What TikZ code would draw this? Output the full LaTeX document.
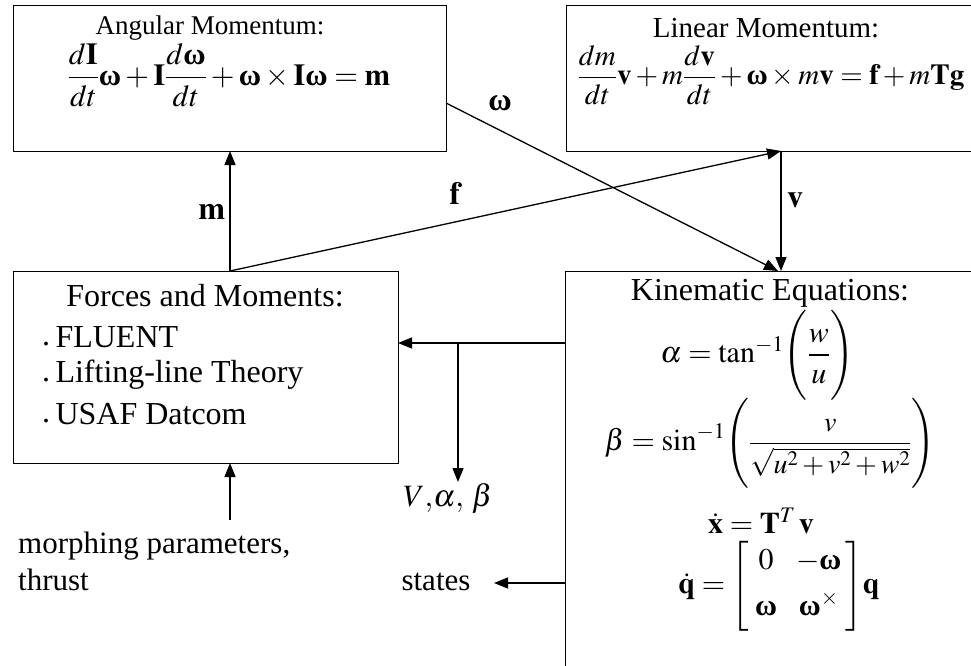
\documentclass[tikz,border=0pt]{standalone}
\usepackage{amsmath}
\usepackage{mathptmx}
\usepackage{fontspec}
\setmainfont{Liberation Serif}
\usetikzlibrary{arrows.meta}
\newcommand{\bom}{\text{\normalfont\bfseries ω}}
\newcommand{\bdot}{\raisebox{0.12ex}{.}\,}
\tikzset{
  box/.style={draw, line width=1.3pt, inner sep=0pt, anchor=north west},
  arr/.style={line width=1.3pt, -{Triangle[length=14pt,width=11pt]}},
  lbl/.style={inner sep=0pt},
  big/.style={font=\fontsize{32}{37}\selectfont},
  keq/.style={inner sep=0pt, font=\fontsize{30}{34}\selectfont},
}
\begin{document}
\begin{tikzpicture}[x=1pt,y=-1pt,font=\fontsize{27}{32}\selectfont]
\useasboundingbox (0,0) rectangle (971,666);
\clip (0,0) rectangle (971,666);
% boxes
\node[box, minimum width=433pt, minimum height=146pt] (ang) at (13,5) {};
\node[box, minimum width=409pt, minimum height=146pt] (lin) at (566,5) {};
\node[box, minimum width=385pt, minimum height=192pt] (forc) at (13,271) {};
\node[box, minimum width=410pt, minimum height=430pt] (kin) at (565,271) {};
% texts
\node[lbl] (angt) at (210,28) {Angular Momentum:};
\node[lbl, font=\fontsize{30.5}{34}\selectfont] (ange) at (229,75) {$\dfrac{d\mathbf{I}}{dt}\bom+\mathbf{I}\dfrac{d\bom}{dt}+\bom\times\mathbf{I}\bom=\mathbf{m}$};
\node[lbl, font=\fontsize{29}{34}\selectfont] (lint) at (766,28) {Linear Momentum:};
\node[lbl, font=\fontsize{29}{34}\selectfont] (line) at (771,75) {$\dfrac{dm}{dt}\mathbf{v}+m\dfrac{d\mathbf{v}}{dt}+\bom\times m\mathbf{v}=\mathbf{f}+m\mathbf{Tg}$};
\node[lbl, big] (forct) at (205,296) {Forces and Moments:};
\node[lbl, big, anchor=west] (b1) at (42,337) {\bdot FLUENT};
\node[lbl, big, anchor=west] (b2) at (42,375) {\bdot Lifting-line Theory};
\node[lbl, big, anchor=west] (b3) at (42,414) {\bdot USAF Datcom};
\node[lbl, big] (kint) at (770,293) {Kinematic Equations:};
\node[keq] (eqa) at (757,355) {$\alpha=\tan^{-1}\!\left(\rule[-1.15em]{0pt}{2.45em}\dfrac{w}{u}\right)$};
\node[keq] (eqb) at (770,443) {$\beta=\sin^{-1}\!\left(\rule[-1.2em]{0pt}{2.5em}\text{\fontsize{28}{32}\selectfont$\dfrac{v}{\sqrt{u^2+v^2+w^2}}$}\right)$};
\node[keq] (eqx) at (761,521) {$\dot{\mathbf{x}}=\mathbf{T}^T\,\mathbf{v}$};
\node[keq] (eqq) at (779,586) {$\dot{\mathbf{q}}=\left[\rule[-1.2em]{0pt}{2.5em}\begin{array}{@{\hspace{6pt}}c@{\hspace{19pt}}c@{\hspace{4pt}}}0 & -\bom\\[12pt] \bom & \bom^{\times}\end{array}\right]\!\mathbf{q}$};
\node[lbl, anchor=west, align=left, font=\fontsize{31}{37}\selectfont] (morph) at (18,561) {morphing parameters,\\thrust};
\node[lbl, font=\fontsize{31}{34}\selectfont] (vab) at (448,498) {$V{,}\alpha{,}\ \beta$};
\node[lbl, font=\fontsize{31}{34}\selectfont] (states) at (436,582) {states};
% connector coordinates
\coordinate (mB) at (230,271);
\coordinate (mT) at (230,151);
\coordinate (fT) at (781,151);
\coordinate (wS) at (446,103);
\coordinate (wT) at (778,271);
\coordinate (vT) at (781,271);
\coordinate (kL) at (565,343);
\coordinate (fR) at (398,343);
\coordinate (br) at (458,343);
\coordinate (brT) at (458,482);
\coordinate (sS) at (565,583);
\coordinate (sT) at (494,583);
\coordinate (mpS) at (230,520);
\coordinate (mpT) at (230,463);
% connectors
\draw[arr] (mB) -- (mT);
\draw[arr] (mB) -- (fT);
\draw[arr] (wS) -- (wT);
\draw[arr] (fT) -- (vT);
\draw[arr] (kL) -- (fR);
\draw[arr] (br) -- (brT);
\draw[arr] (sS) -- (sT);
\draw[arr] (mpS) -- (mpT);
% connector labels
\node[lbl, big] (lm) at (212,212) {$\mathbf{m}$};
\node[lbl, big] (lf) at (455,193) {$\mathbf{f}$};
\node[lbl, big] (lw) at (500,103) {$\bom$};
\node[lbl, big] (lv) at (795,200) {$\mathbf{v}$};
\end{tikzpicture}
\end{document}
